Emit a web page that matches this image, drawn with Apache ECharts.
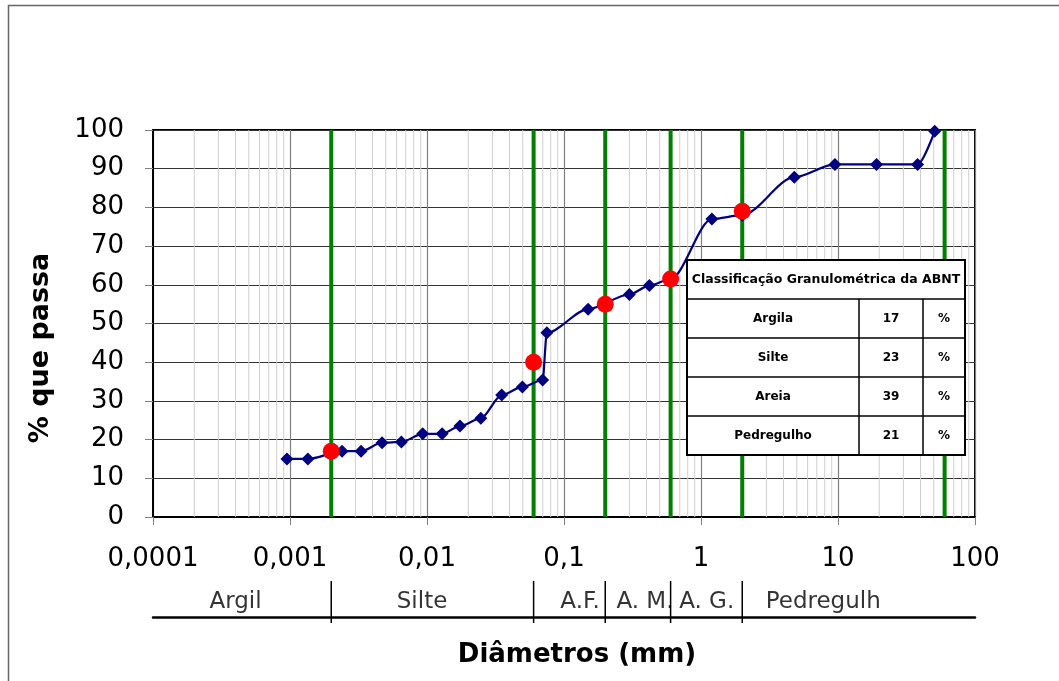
<!DOCTYPE html>
<html><head><meta charset="utf-8">
<script src="https://cdn.jsdelivr.net/npm/echarts@6/dist/echarts.min.js"></script>
<style>html,body{margin:0;padding:0;background:#fff}#c{width:1059px;height:681px}</style>
</head><body><div id="c"></div>
<script>
// ---- data ----
const diameters = [0.00095,0.00135,0.0024,0.0033,0.0047,0.0065,0.0093,0.0129,0.0174,0.0247,0.0351,0.0497,0.0698,0.075,0.15,0.3,0.42,0.6,1.2,2.0,4.8,9.5,19.1,38.1,50.8];
const passing   = [15,15,17,17,19.2,19.4,21.5,21.5,23.5,25.5,31.5,33.6,35.4,47.6,53.7,57.5,59.8,61.5,77.0,78.0,87.8,91.1,91.1,91.1,99.7];
const limitDiameters = [0.002,0.06,0.2,0.6,2];
const limitPassing   = [17,40,55,61.5,79];
const greenLines = [0.002,0.06,0.2,0.6,2,60];
const xTickLabels = ['0,0001','0,001','0,01','0,1','1','10','100'];
const classLabels = ['Argil','Silte','A.F.','A. M.','A. G.','Pedregulh'];
const classLabelAt = [0.0004,0.0092,0.131,0.39,1.1,7.8];
const classSeparators = [0.002,0.06,0.2,0.6,2];
const tableTitle = 'Classificação Granulométrica da ABNT';
const tableNames = ['Argila','Silte','Areia','Pedregulho'];
const tableValues = [17,23,39,21];

const FONT = 'DejaVu Sans';
// minor log grid lines (2..9 within each decade)
const minorLines = [];
for (let d = -4; d < 2; d++) for (let k = 2; k <= 9; k++) minorLines.push(k * Math.pow(10, d));

const chart = echarts.init(document.getElementById('c'), null, {renderer: 'canvas'});

function vlines(values, xi, yi, yLo, yHi, color, width, z, extendBottom) {
  return {
    type:'custom', xAxisIndex:xi, yAxisIndex:yi, z:z, silent:true, clip:false,
    encode:{x:0, y:1},
    data: values.map(v => [v, yLo]),
    renderItem: (params, api) => {
      const x = api.value(0);
      const p1 = api.coord([x, yLo]);
      const p2 = api.coord([x, yHi]);
      return {type:'line', shape:{x1:p1[0], y1:p1[1] + (extendBottom||0), x2:p2[0], y2:p2[1]},
        style:{stroke:color, lineWidth:width}};
    }
  };
}

// table graphic
const tx = 687, ty = 260, tw = 278, hh = 39, rh = 39, c1 = 859, c2 = 923;
const TZ = 50;
const tableEls = [];
const tfont = 'bold 12px "'+FONT+'"';
tableEls.push({type:'rect', z:TZ, shape:{x:tx, y:ty, width:tw, height:hh + rh*tableNames.length}, style:{fill:'#fff', stroke:'#000', lineWidth:2}});
tableEls.push({type:'text', z:TZ+1, style:{x:tx+tw/2, y:ty+hh/2, text:tableTitle, font:'bold 12.5px "'+FONT+'"', fill:'#000', align:'center', verticalAlign:'middle'}});
tableNames.forEach((n,i)=>{
  const y0 = ty + hh + i*rh;
  tableEls.push({type:'line', z:TZ+1, shape:{x1:tx, y1:y0, x2:tx+tw, y2:y0}, style:{stroke:'#000', lineWidth:1.5}});
  tableEls.push({type:'text', z:TZ+1, style:{x:(tx+c1)/2, y:y0+rh/2, text:n, font:tfont, fill:'#000', align:'center', verticalAlign:'middle'}});
  tableEls.push({type:'text', z:TZ+1, style:{x:(c1+c2)/2, y:y0+rh/2, text:String(tableValues[i]), font:tfont, fill:'#000', align:'center', verticalAlign:'middle'}});
  tableEls.push({type:'text', z:TZ+1, style:{x:(c2+tx+tw)/2, y:y0+rh/2, text:'%', font:tfont, fill:'#000', align:'center', verticalAlign:'middle'}});
});
tableEls.push({type:'line', z:TZ+1, shape:{x1:c1, y1:ty+hh, x2:c1, y2:ty+hh+rh*tableNames.length}, style:{stroke:'#000', lineWidth:1.5}});
tableEls.push({type:'line', z:TZ+1, shape:{x1:c2, y1:ty+hh, x2:c2, y2:ty+hh+rh*tableNames.length}, style:{stroke:'#000', lineWidth:1.5}});

const option = {
  animation: false,
  backgroundColor: '#fff',
  grid: [
    {left:153, right:84, top:130, bottom:164, show:true, borderColor:'#000', borderWidth:2, containLabel:false},
    {left:153, right:84, top:581, height:36, show:false}
  ],
  xAxis: [
    {type:'log', logBase:10, min:0.0001, max:100, splitNumber:6, gridIndex:0,
     axisLine:{show:true, lineStyle:{color:'#000', width:2}},
     axisTick:{show:true, length:8, lineStyle:{color:'#808080', width:1}},
     axisLabel:{margin:29, color:'#000', fontFamily:FONT, fontSize:26,
       formatter: v => xTickLabels[Math.round(Math.log10(v)) + 4]},
     splitLine:{show:true, lineStyle:{color:'#808080', width:1.2}},
     minorTick:{show:false}, minorSplitLine:{show:false}},
    {type:'log', logBase:10, min:0.0001, max:100, gridIndex:1,
     axisLine:{show:true, lineStyle:{color:'#000', width:2.5}},
     axisTick:{show:false}, axisLabel:{show:false}, splitLine:{show:false}}
  ],
  yAxis: [
    {type:'value', min:0, max:100, interval:10, gridIndex:0,
     axisLine:{show:true, lineStyle:{color:'#000', width:2}},
     axisTick:{show:true, length:8, lineStyle:{color:'#808080', width:1}},
     axisLabel:{margin:29, color:'#000', fontFamily:FONT, fontSize:26},
     splitLine:{show:true, lineStyle:{color:'#333', width:1}}},
    {type:'value', min:0, max:1, gridIndex:1, show:false}
  ],
  series: [
    vlines(minorLines, 0, 0, 0, 100, '#cfcfcf', 1, 1),
    vlines(greenLines, 0, 0, 0, 100, '#008000', 4, 2),
    {type:'line', name:'Granulometria', z:3, xAxisIndex:0, yAxisIndex:0,
     data: diameters.map((d,i) => [d, passing[i]]),
     smooth:0.3, smoothMonotone:'x',
     symbol:'diamond', symbolSize:13, showAllSymbol:true,
     lineStyle:{color:'#000080', width:2.2}, itemStyle:{color:'#000080'},
     emphasis:{disabled:true}},
    {type:'scatter', z:4, xAxisIndex:0, yAxisIndex:0,
     data: limitDiameters.map((d,i) => [d, limitPassing[i]]),
     symbol:'circle', symbolSize:17, itemStyle:{color:'#ff0000', opacity:1},
     emphasis:{disabled:true}},
    {type:'scatter', z:4, xAxisIndex:1, yAxisIndex:1, silent:true,
     data: classLabels.map((n,i) => ({name:n, value:[classLabelAt[i], 0.42]})),
     symbolSize:0,
     label:{show:true, position:'inside', formatter:'{b}', color:'#000', fontFamily:FONT, fontSize:23}},
    vlines(classSeparators, 1, 1, 0, 1, '#000', 1.5, 4, 6)
  ],
  graphic: [
    {type:'rect', shape:{x:8.5, y:5.5, width:1100, height:700}, style:{fill:'none', stroke:'#666', lineWidth:1.5}, z:0, silent:true},
    {type:'text', x:41, y:348, rotation:Math.PI/2, style:{text:'% que passa', font:'bold 27px "'+FONT+'"', fill:'#000', align:'center', verticalAlign:'middle'}, z:10},
    {type:'text', x:577, y:655, style:{text:'Diâmetros (mm)', font:'bold 26px "'+FONT+'"', fill:'#000', align:'center', verticalAlign:'middle'}, z:10},
    {type:'group', z:TZ, children: tableEls}
  ]
};
chart.setOption(option);
</script>
</body></html>
